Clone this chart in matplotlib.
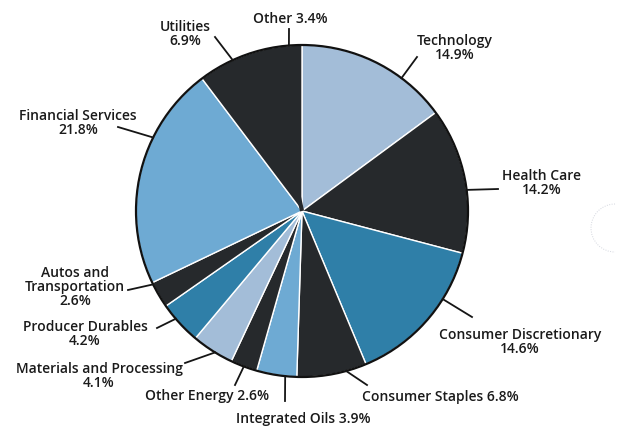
import numpy as np
import matplotlib
matplotlib.use('Agg')
import matplotlib.pyplot as plt
from matplotlib.patches import Circle, Arc

# sector weights, clockwise from 12 o'clock
sectors = ['Technology', 'Health Care', 'Consumer Discretionary', 'Consumer Staples',
           'Integrated Oils', 'Other Energy', 'Materials and Processing',
           'Producer Durables', 'Autos and Transportation', 'Financial Services',
           'Utilities', 'Other']
weights = [14.9, 14.2, 14.6, 6.8, 3.9, 2.6, 4.1, 4.2, 2.6, 21.8, 6.9, 3.4]
label_text = ['Technology\n{}%', 'Health Care\n{}%', 'Consumer Discretionary\n{}%',
              'Consumer Staples {}%', 'Integrated Oils {}%', 'Other Energy {}%',
              'Materials and Processing\n{}%', 'Producer Durables\n{}%',
              'Autos and\nTransportation\n{}%', 'Financial Services\n{}%',
              'Utilities\n{}%', 'Other {}%']

# colours
light = '#a3bdd8'
dark = '#26292c'
teal = '#2f7fa8'
sky = '#6eaad3'
colors = [light, dark, teal, dark, sky, dark, light, teal, dark, sky, dark, dark]

# layout in pixels (y measured down from top): text centre, leader end, leader angle tweak
text_xy = [(455, 48), (542, 183), (520, 342), (440, 397), (303, 419), (207, 396),
           (99, 376), (85, 334), (75, 287), (78, 123), (185, 34), (290, 19)]
leader_end = [(417, 57), (498, 189), (472, 317), (367, 385), (285, 401), (235, 385),
              (185, 363), (157, 328), (128, 290), (118, 127), (215, 37), (289, 29)]
angle_tweak = [10, 3.5, -9, -5, -3, 0, -1, 2, 4, 12.6, 0, 1.6]

W, H = 617, 428
cx, cy, r = 302, 211, 166

fig = plt.figure(figsize=(W / 100, H / 100), dpi=100)
ax = fig.add_axes([0, 0, 1, 1])

ax.pie(weights, colors=colors, startangle=90, counterclock=False,
       center=(cx, H - cy), radius=r, frame=True,
       wedgeprops=dict(edgecolor='white', linewidth=1.0))
ax.set_xlim(0, W)
ax.set_ylim(0, H)
ax.axis('off')

# no white seam where two dark wedges meet
cum = np.cumsum([0] + weights[:-1])
for i in range(1, len(weights)):
    if colors[i] == dark and colors[i - 1] == dark:
        th = np.deg2rad(cum[i] * 3.6)
        ax.plot([cx, cx + r * np.sin(th)], [H - cy, H - (cy - r * np.cos(th))],
                color=dark, linewidth=3, solid_capstyle='butt', zorder=4)

ax.add_patch(Circle((cx, H - cy), r, fill=False, edgecolor='#111111', linewidth=1.6, zorder=5))

# labels with leader lines
for i, w in enumerate(weights):
    theta = np.deg2rad((cum[i] + w / 2) * 3.6 + angle_tweak[i])
    sx = cx + r * np.sin(theta)
    sy = cy - r * np.cos(theta)
    ex, ey = leader_end[i]
    ax.plot([sx, ex], [H - sy, H - ey], color='#151515', linewidth=1.3, zorder=6)
    tx, ty = text_xy[i]
    ax.text(tx, H - ty, label_text[i].format(w), ha='center', va='center',
            fontsize=10, family='Open Sans', fontweight='semibold',
            color='#1a1a1a', linespacing=1.0)

# faint ring printed at the right edge of the page
ax.add_patch(Arc((615, H - 228), 48, 48, theta1=90, theta2=270,
                 edgecolor='#d3d6de', linewidth=0.7, linestyle=(0, (1, 1.5))))

fig.savefig('out.png', dpi=100)
